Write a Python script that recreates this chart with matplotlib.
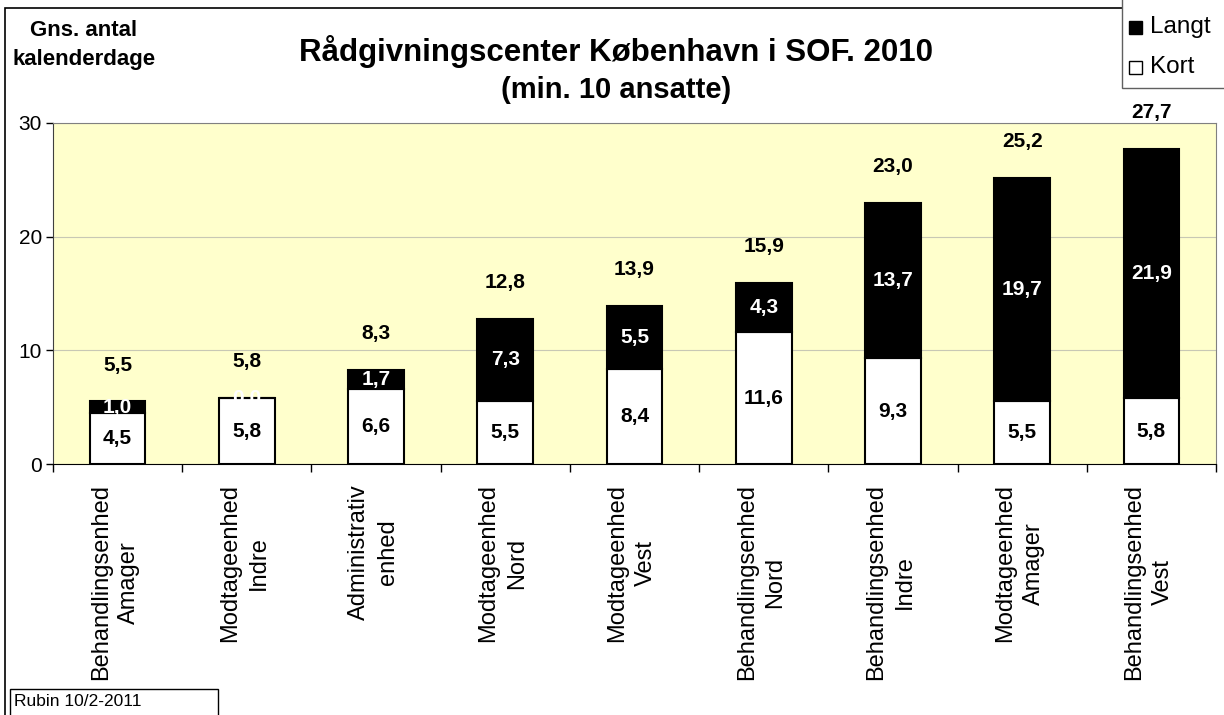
import matplotlib.pyplot as plt
from matplotlib.patches import Rectangle

plt.rcParams['font.family'] = ['Liberation Sans', 'DejaVu Sans']

categories = ["Behandlingsenhed\nAmager", "Modtageenhed\nIndre", "Administrativ\nenhed",
              "Modtageenhed\nNord", "Modtageenhed\nVest", "Behandlingsenhed\nNord",
              "Behandlingsenhed\nIndre", "Modtageenhed\nAmager", "Behandlingsenhed\nVest"]
kort = [4.5, 5.8, 6.6, 5.5, 8.4, 11.6, 9.3, 5.5, 5.8]
langt = [1.0, 0.0, 1.7, 7.3, 5.5, 4.3, 13.7, 19.7, 21.9]
totals = [5.5, 5.8, 8.3, 12.8, 13.9, 15.9, 23.0, 25.2, 27.7]


def fmt(v):
    return f"{v:.1f}".replace(".", ",")


W, H = 1224, 715
fig = plt.figure(figsize=(W / 100, H / 100), dpi=100)


def px(x, y):
    # pixel (from top-left) -> figure fraction
    return x / W, 1 - y / H


# outer chart frame (runs off the right/bottom of the image)
fig.patches.append(Rectangle((5 / W, -0.1), 1.2, (H - 8) / H + 0.1, transform=fig.transFigure,
                             fill=False, edgecolor='black', lw=1.2, zorder=0))

ax = fig.add_axes([53 / W, (H - 464) / H, 1163 / W, 341 / H])
ax.set_facecolor('#FFFFCC')

x = list(range(len(categories)))
ax.bar(x, kort, width=0.43, color='white', edgecolor='black', lw=1.5, zorder=3)
ax.bar(x, langt, width=0.43, bottom=kort, color='black', edgecolor='black', lw=1.5, zorder=3)

for i in x:
    ax.text(i, kort[i] / 2, fmt(kort[i]), ha='center', va='center', fontsize=15,
            fontweight='bold', color='black', zorder=4)
    ax.text(i, kort[i] + langt[i] / 2, fmt(langt[i]), ha='center', va='center', fontsize=15,
            fontweight='bold', color='white', zorder=4)
    ax.text(i, totals[i] + 3.2, fmt(totals[i]), ha='center', va='center', fontsize=15,
            fontweight='bold', color='black', zorder=4)

ax.set_xlim(-0.5, len(categories) - 0.5)
ax.set_ylim(0, 30)
ax.set_yticks([0, 10, 20, 30])
ax.tick_params(axis='y', labelsize=15, direction='out', length=5, width=1, pad=3)
ax.grid(axis='y', color='#C8C8B4', lw=0.8, zorder=1)
ax.set_axisbelow(True)

ax.set_xticks([i + 0.5 for i in range(-1, len(categories))])
ax.set_xticklabels([])
ax.tick_params(axis='x', direction='out', length=6, width=1)
for i, c in enumerate(categories):
    ax.text(i - 0.02, -1.8, c, rotation=90, ha='center', va='top', multialignment='center',
            fontsize=17, linespacing=1.4)

for s in ['top', 'right']:
    ax.spines[s].set_color('#808080')
ax.spines['left'].set_color('#404040')
ax.spines['bottom'].set_color('black')

fig.text(*px(616, 51), "Rådgivningscenter København i SOF. 2010", ha='center',
         va='center', fontsize=22.5, fontweight='bold')
fig.text(*px(616, 90), "(min. 10 ansatte)", ha='center', va='center',
         fontsize=21, fontweight='bold')
fig.text(*px(84, 45), "Gns. antal\nkalenderdage", ha='center', va='center',
         fontsize=16, fontweight='bold', linespacing=1.55)

# legend box
lx, ly = px(1122, 88)
fig.patches.append(Rectangle((lx, ly), 0.2, 0.2, transform=fig.transFigure,
                             facecolor='white', edgecolor='#606060', lw=1, zorder=5))
leg_labels = ['Langt', 'Kort']
leg_colors = ['black', 'white']
for k, (lab, col) in enumerate(zip(leg_labels, leg_colors)):
    yc = 27 + 40 * k
    sx, sy = px(1129, yc + 7)
    fig.patches.append(Rectangle((sx, sy), 13 / W, 13 / H, transform=fig.transFigure,
                                 facecolor=col, edgecolor='black', lw=1, zorder=6))
    fig.text(*px(1150, yc), lab, ha='left', va='center', fontsize=17.5, zorder=7)

# footer box
bx, by = px(10, 730)
fig.patches.append(Rectangle((bx, by), 208 / W, 41 / H, transform=fig.transFigure,
                             facecolor='white', edgecolor='black', lw=1, zorder=5))
fig.text(*px(14, 702), "Rubin 10/2-2011", ha='left', va='center', fontsize=12.5, zorder=6)

fig.savefig('out.png', dpi=100)
